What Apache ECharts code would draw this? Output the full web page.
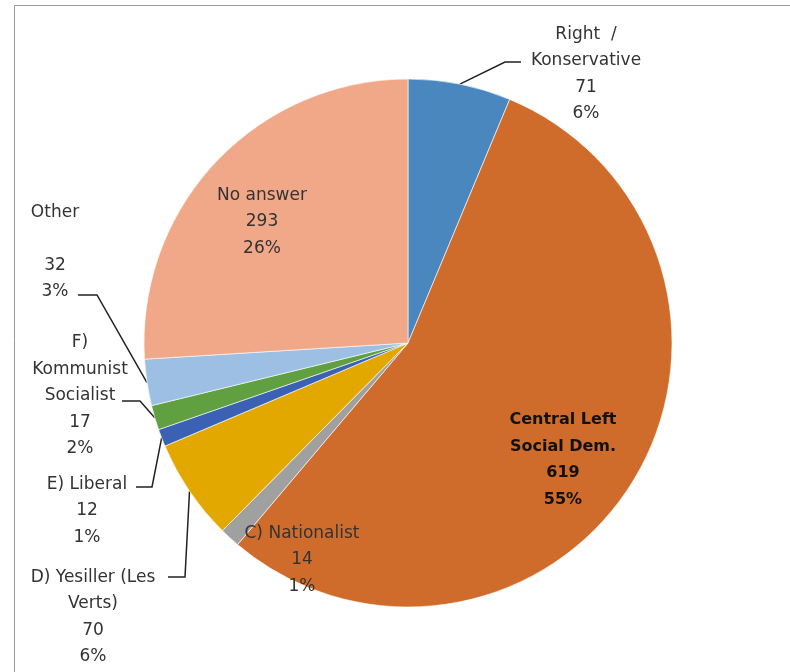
<!DOCTYPE html>
<html>
<head>
<meta charset="utf-8">
<style>
  html, body { margin: 0; padding: 0; background: #fff; }
  #main { width: 790px; height: 672px; }
</style>
<script src="https://cdn.jsdelivr.net/npm/echarts@6/dist/echarts.min.js"></script>
</head>
<body>
<div id="main"></div>
<script>
// categories, in pie order (clockwise from 12 o'clock)
const categories = ['Right / Konservative', 'Central Left Social Dem.', 'C) Nationalist',
  'D) Yesiller (Les Verts)', 'E) Liberal', 'F) Kommunist Socialist', 'Other', 'No answer']
// how the name is wrapped in its label
const labelNames = ['Right  /\nKonservative', 'Central Left\nSocial Dem.', 'C) Nationalist',
  'D) Yesiller (Les\nVerts)', 'E) Liberal', 'F)\nKommunist\nSocialist', 'Other\n', 'No answer']
const values = [71, 619, 14, 70, 12, 17, 32, 293]
const colors = ['#4a87bf', '#d06c2b', '#a0a0a0', '#e2a800', '#3a61b3', '#60a040', '#9dbfe3', '#f0a889']

// label anchor (text centre) and leader line bend / end
const labelPos = [
  { x: 586, y: 74, bend: [505, 62], end: [521, 62] },
  { x: 563, y: 460 },
  { x: 302, y: 560 },
  { x: 93, y: 617, bend: [185, 577], end: [168, 577] },
  { x: 87, y: 511, bend: [152, 487], end: [136, 487] },
  { x: 80, y: 396, bend: [140, 401], end: [122, 401] },
  { x: 55, y: 252, bend: [97, 295], end: [78, 295] },
  { x: 262, y: 222 }
]
const hasLine = [true, false, false, true, true, true, true, false]

const chart = echarts.init(document.getElementById('main'))

const seriesData = categories.map((name, i) => ({
  name: name,
  value: values[i],
  itemStyle: { color: colors[i] },
  label: i === 1 ? { fontWeight: 'bold', color: '#111', fontSize: 16 } : {},
  labelLine: { show: hasLine[i] }
}))

chart.setOption({
  animation: false,
  graphic: [{
    type: 'rect',
    shape: { x: 14.5, y: 5.5, width: 800, height: 700 },
    style: { fill: 'none', stroke: '#9a9a9a', lineWidth: 1 },
    silent: true
  }],
  series: [{
    type: 'pie',
    center: [408, 343],
    radius: 264,
    startAngle: 90,
    clockwise: true,
    percentPrecision: 0,
    avoidLabelOverlap: false,
    itemStyle: { borderColor: '#fff', borderWidth: 0.6 },
    label: {
      show: true,
      position: 'outside',
      fontFamily: 'DejaVu Sans',
      fontSize: 17,
      lineHeight: 26.5,
      color: '#333',
      align: 'center',
      formatter: (p) => labelNames[p.dataIndex] + '\n' + p.value + '\n' + p.percent + '%'
    },
    labelLine: {
      show: true,
      lineStyle: { color: '#222', width: 1.5 }
    },
    labelLayout: (params) => {
      const lp = labelPos[params.dataIndex]
      const out = { x: lp.x, y: lp.y, align: 'center', verticalAlign: 'middle' }
      if (lp.bend && params.labelLinePoints) {
        out.labelLinePoints = [params.labelLinePoints[0], lp.bend, lp.end]
      }
      return out
    },
    data: seriesData
  }]
})
</script>
</body>
</html>
